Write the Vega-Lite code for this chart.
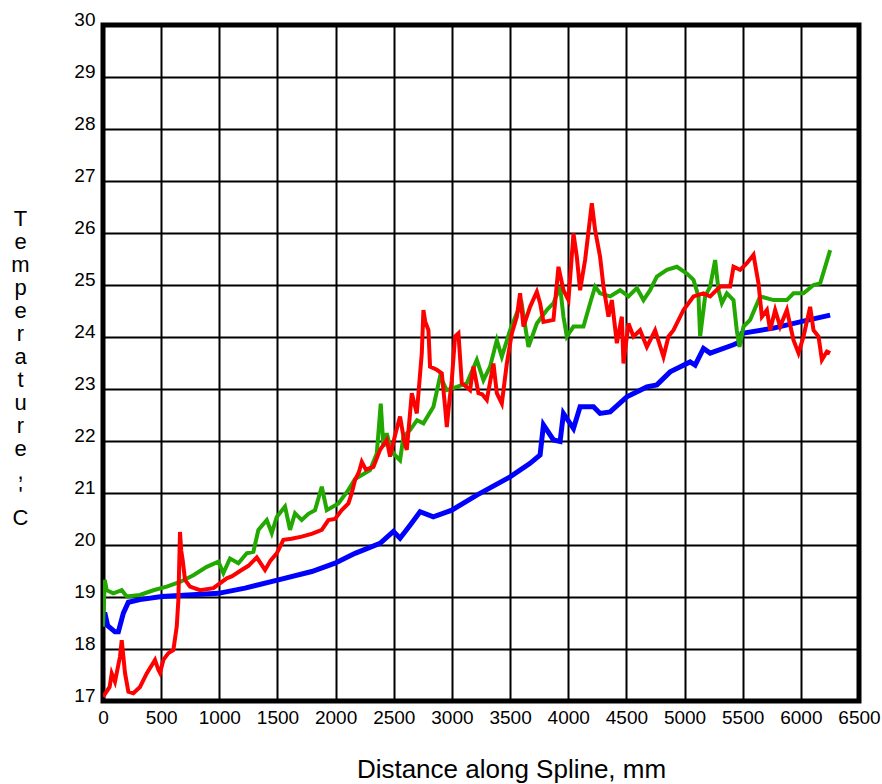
{
  "$schema": "https://vega.github.io/schema/vega-lite/v6.json",
  "autosize": {"type": "none"},
  "padding": {"left": 103, "top": 25, "right": 23, "bottom": 83},
  "width": 756,
  "height": 676,
  "background": "white",
  "config": {
    "view": {"stroke": "black", "strokeWidth": 5},
    "axis": {
      "grid": true, "gridColor": "black", "gridWidth": 2, "gridOpacity": 1,
      "domain": false, "ticks": false,
      "labelFont": "Liberation Sans", "labelFontSize": 19, "labelColor": "black",
      "labelFlush": false, "labelOverlap": false, "labelBound": false,
      "titleFont": "Liberation Sans", "titleFontWeight": "normal", "titleColor": "black"
    }
  },
  "datasets": {
    "blue": [
      {"d":0,"t":18.56},{"d":15,"t":18.7},{"d":40,"t":18.45},{"d":103,"t":18.33},{"d":132,"t":18.33},{"d":175,"t":18.69},{"d":218,"t":18.9},{"d":318,"t":18.95},{"d":505,"t":19.01},{"d":992,"t":19.07},{"d":1221,"t":19.17},{"d":1508,"t":19.33},{"d":1795,"t":19.49},{"d":1995,"t":19.65},{"d":2167,"t":19.84},{"d":2382,"t":20.03},{"d":2497,"t":20.26},{"d":2554,"t":20.13},{"d":2640,"t":20.38},{"d":2726,"t":20.64},{"d":2840,"t":20.54},{"d":2999,"t":20.67},{"d":3214,"t":20.96},{"d":3500,"t":21.31},{"d":3672,"t":21.57},{"d":3758,"t":21.73},{"d":3787,"t":22.31},{"d":3873,"t":22.02},{"d":3930,"t":21.99},{"d":3959,"t":22.53},{"d":4045,"t":22.24},{"d":4102,"t":22.66},{"d":4217,"t":22.66},{"d":4274,"t":22.53},{"d":4360,"t":22.56},{"d":4504,"t":22.85},{"d":4676,"t":23.04},{"d":4762,"t":23.08},{"d":4876,"t":23.33},{"d":5048,"t":23.52},{"d":5091,"t":23.46},{"d":5163,"t":23.78},{"d":5220,"t":23.69},{"d":5421,"t":23.85},{"d":5478,"t":23.91},{"d":5493,"t":24.07},{"d":5765,"t":24.17},{"d":5994,"t":24.29},{"d":6252,"t":24.42}
    ],
    "green": [
      {"d":0,"t":18.43},{"d":15,"t":19.33},{"d":32,"t":19.13},{"d":89,"t":19.07},{"d":161,"t":19.13},{"d":204,"t":19.01},{"d":318,"t":19.04},{"d":433,"t":19.13},{"d":548,"t":19.2},{"d":662,"t":19.29},{"d":777,"t":19.42},{"d":892,"t":19.58},{"d":992,"t":19.68},{"d":1035,"t":19.46},{"d":1092,"t":19.74},{"d":1164,"t":19.65},{"d":1236,"t":19.84},{"d":1293,"t":19.87},{"d":1336,"t":20.29},{"d":1408,"t":20.48},{"d":1451,"t":20.23},{"d":1494,"t":20.54},{"d":1565,"t":20.74},{"d":1608,"t":20.29},{"d":1651,"t":20.61},{"d":1709,"t":20.48},{"d":1766,"t":20.6},{"d":1823,"t":20.67},{"d":1881,"t":21.12},{"d":1924,"t":20.67},{"d":2024,"t":20.8},{"d":2110,"t":21.06},{"d":2167,"t":21.27},{"d":2296,"t":21.44},{"d":2354,"t":21.76},{"d":2388,"t":22.72},{"d":2411,"t":21.89},{"d":2440,"t":22.15},{"d":2468,"t":21.89},{"d":2500,"t":21.75},{"d":2554,"t":21.63},{"d":2583,"t":22.08},{"d":2640,"t":22.21},{"d":2700,"t":22.4},{"d":2755,"t":22.34},{"d":2841,"t":22.66},{"d":2898,"t":23.24},{"d":2956,"t":22.98},{"d":3042,"t":23.04},{"d":3128,"t":23.11},{"d":3214,"t":23.56},{"d":3271,"t":23.17},{"d":3328,"t":23.43},{"d":3386,"t":23.94},{"d":3429,"t":23.62},{"d":3500,"t":24.13},{"d":3558,"t":24.46},{"d":3601,"t":24.62},{"d":3658,"t":23.81},{"d":3730,"t":24.26},{"d":3816,"t":24.52},{"d":3873,"t":24.65},{"d":3930,"t":24.97},{"d":3959,"t":24.39},{"d":3988,"t":24.01},{"d":4045,"t":24.2},{"d":4131,"t":24.2},{"d":4188,"t":24.65},{"d":4231,"t":24.97},{"d":4274,"t":24.84},{"d":4360,"t":24.78},{"d":4446,"t":24.9},{"d":4518,"t":24.78},{"d":4590,"t":24.94},{"d":4647,"t":24.71},{"d":4704,"t":24.9},{"d":4762,"t":25.16},{"d":4848,"t":25.29},{"d":4934,"t":25.35},{"d":5020,"t":25.22},{"d":5077,"t":25.1},{"d":5120,"t":24.78},{"d":5134,"t":24.01},{"d":5177,"t":24.78},{"d":5220,"t":24.97},{"d":5263,"t":25.48},{"d":5292,"t":24.9},{"d":5321,"t":24.65},{"d":5364,"t":24.84},{"d":5421,"t":24.71},{"d":5449,"t":24.13},{"d":5472,"t":23.81},{"d":5507,"t":24.2},{"d":5564,"t":24.33},{"d":5650,"t":24.78},{"d":5765,"t":24.71},{"d":5880,"t":24.71},{"d":5937,"t":24.84},{"d":6023,"t":24.84},{"d":6109,"t":25.0},{"d":6166,"t":25.03},{"d":6209,"t":25.35},{"d":6252,"t":25.67}
    ],
    "red": [
      {"d":0,"t":17.08},{"d":57,"t":17.27},{"d":75,"t":17.53},{"d":103,"t":17.37},{"d":146,"t":17.85},{"d":161,"t":18.17},{"d":189,"t":17.54},{"d":218,"t":17.18},{"d":261,"t":17.15},{"d":318,"t":17.27},{"d":376,"t":17.53},{"d":447,"t":17.79},{"d":476,"t":17.6},{"d":490,"t":17.54},{"d":519,"t":17.79},{"d":562,"t":17.92},{"d":605,"t":17.98},{"d":634,"t":18.43},{"d":648,"t":18.94},{"d":662,"t":20.25},{"d":672,"t":19.9},{"d":685,"t":19.71},{"d":705,"t":19.33},{"d":748,"t":19.2},{"d":834,"t":19.13},{"d":949,"t":19.17},{"d":1064,"t":19.36},{"d":1110,"t":19.4},{"d":1178,"t":19.5},{"d":1250,"t":19.6},{"d":1322,"t":19.76},{"d":1393,"t":19.52},{"d":1440,"t":19.7},{"d":1494,"t":19.84},{"d":1551,"t":20.1},{"d":1620,"t":20.12},{"d":1709,"t":20.16},{"d":1800,"t":20.22},{"d":1881,"t":20.29},{"d":1938,"t":20.48},{"d":1995,"t":20.5},{"d":2053,"t":20.67},{"d":2110,"t":20.8},{"d":2139,"t":21.0},{"d":2167,"t":21.25},{"d":2200,"t":21.4},{"d":2225,"t":21.6},{"d":2260,"t":21.45},{"d":2325,"t":21.5},{"d":2382,"t":21.83},{"d":2440,"t":22.02},{"d":2468,"t":21.7},{"d":2510,"t":22.1},{"d":2554,"t":22.47},{"d":2590,"t":22.0},{"d":2612,"t":21.83},{"d":2655,"t":22.92},{"d":2698,"t":22.53},{"d":2741,"t":23.69},{"d":2755,"t":24.52},{"d":2770,"t":24.3},{"d":2798,"t":24.13},{"d":2812,"t":23.43},{"d":2870,"t":23.37},{"d":2913,"t":23.3},{"d":2941,"t":22.66},{"d":2956,"t":22.27},{"d":2975,"t":22.7},{"d":2999,"t":23.17},{"d":3027,"t":24.01},{"d":3056,"t":24.07},{"d":3085,"t":23.11},{"d":3120,"t":23.05},{"d":3156,"t":22.98},{"d":3185,"t":23.43},{"d":3228,"t":22.92},{"d":3260,"t":22.9},{"d":3300,"t":22.79},{"d":3357,"t":23.49},{"d":3386,"t":22.92},{"d":3429,"t":22.72},{"d":3472,"t":23.49},{"d":3515,"t":24.07},{"d":3558,"t":24.39},{"d":3586,"t":24.84},{"d":3615,"t":24.2},{"d":3672,"t":24.58},{"d":3730,"t":24.87},{"d":3758,"t":24.65},{"d":3787,"t":24.29},{"d":3873,"t":24.33},{"d":3916,"t":25.35},{"d":3959,"t":24.9},{"d":4002,"t":24.71},{"d":4045,"t":25.99},{"d":4074,"t":25.54},{"d":4102,"t":24.9},{"d":4145,"t":25.48},{"d":4203,"t":26.57},{"d":4231,"t":26.06},{"d":4274,"t":25.54},{"d":4303,"t":24.97},{"d":4346,"t":24.39},{"d":4375,"t":24.71},{"d":4418,"t":23.88},{"d":4461,"t":24.39},{"d":4475,"t":23.49},{"d":4518,"t":24.26},{"d":4561,"t":24.01},{"d":4618,"t":24.13},{"d":4676,"t":23.81},{"d":4747,"t":24.13},{"d":4819,"t":23.62},{"d":4862,"t":24.01},{"d":4905,"t":24.13},{"d":4991,"t":24.52},{"d":5077,"t":24.78},{"d":5163,"t":24.84},{"d":5220,"t":24.78},{"d":5306,"t":24.97},{"d":5392,"t":24.97},{"d":5421,"t":25.35},{"d":5478,"t":25.29},{"d":5536,"t":25.42},{"d":5593,"t":25.58},{"d":5636,"t":25.03},{"d":5665,"t":24.39},{"d":5708,"t":24.52},{"d":5736,"t":24.13},{"d":5779,"t":24.52},{"d":5822,"t":24.2},{"d":5880,"t":24.52},{"d":5937,"t":23.94},{"d":5980,"t":23.69},{"d":6023,"t":24.01},{"d":6080,"t":24.58},{"d":6109,"t":24.13},{"d":6152,"t":24.01},{"d":6181,"t":23.56},{"d":6224,"t":23.72},{"d":6252,"t":23.69}
    ]
  },
  "encoding": {
    "x": {
      "field": "d", "type": "quantitative",
      "scale": {"domain": [0, 6500], "nice": false, "zero": false},
      "axis": {
        "values": [0,500,1000,1500,2000,2500,3000,3500,4000,4500,5000,5500,6000,6500],
        "format": "d", "labelPadding": 7,
        "title": "Distance along Spline, mm", "titleFontSize": 26,
        "titleX": 408, "titleY": 76, "titleAlign": "center", "titleBaseline": "alphabetic", "titleAnchor": null
      }
    },
    "y": {
      "field": "t", "type": "quantitative",
      "scale": {"domain": [17, 30], "nice": false, "zero": false},
      "axis": {
        "values": [17,18,19,20,21,22,23,24,25,26,27,28,29,30],
        "format": "d", "labelPadding": 8, "labelBaseline": "alphabetic",
        "title": ["T","e","m","p","e","r","a","t","u","r","e",",","'","C"],
        "titleFontSize": 22, "titleAngle": 0, "titleLineHeight": 23,
        "titleX": -83, "titleY": 200, "titleAlign": "center", "titleBaseline": "alphabetic", "titleAnchor": null
      }
    }
  },
  "layer": [
    {"data": {"name": "blue"}, "mark": {"type": "line", "color": "#0000ff", "strokeWidth": 5, "clip": true}},
    {"data": {"name": "green"}, "mark": {"type": "line", "color": "#22a800", "strokeWidth": 4, "clip": true}},
    {"data": {"name": "red"}, "mark": {"type": "line", "color": "#ff0000", "strokeWidth": 4, "clip": true}}
  ]
}
